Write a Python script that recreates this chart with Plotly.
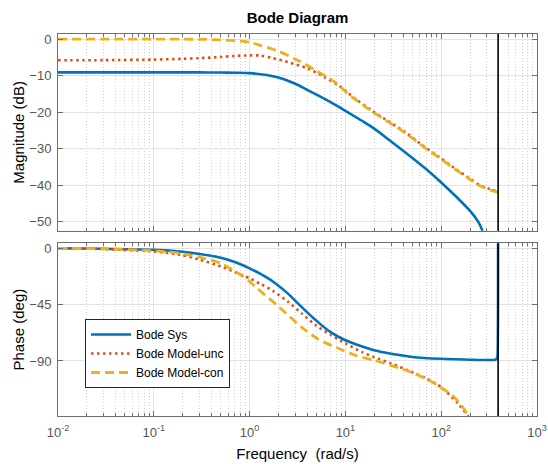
import numpy as np
import plotly.graph_objects as go
from plotly.subplots import make_subplots

# ---------------- data ----------------
NYQ = np.pi / 0.008  # Nyquist frequency (rad/s)

w_sys_mag = [0.01, 0.1, 0.3, 0.5, 0.7, 1, 1.5, 2, 3, 4, 6, 10, 15, 20, 30, 50, 70, 100, 150, 200, 230, 250, 270, 290]
sys_mag = [-9.1, -9.1, -9.1, -9.15, -9.2, -9.3, -9.8, -10.5, -12.2, -13.9, -16.3, -19.6, -22.4, -24.5, -28.0, -32.5, -35.6, -39.2, -43.6, -47.0, -49.0, -50.5, -52.5, -55.0]

w_unc_mag = [0.01, 0.03, 0.1, 0.2, 0.3, 0.5, 0.7, 1, 1.3, 1.75, 2.6, 4, 6, 8.7, 13, 19, 29, 44, 65, 97, 145, 200, 256, 320, NYQ]
unc_mag = [-5.8, -5.75, -5.6, -5.4, -5.2, -4.9, -4.6, -4.45, -4.5, -5.2, -6.4, -8.0, -10.3, -12.9, -16.5, -19.6, -22.7, -25.8, -29.2, -32.4, -35.7, -38.2, -40.0, -41.0, -41.7]

w_con_mag = [0.01, 0.1, 0.3, 0.5, 0.8, 1, 1.3, 2, 3.3, 5, 8, 11, 13, 19, 29, 44, 65, 97, 145, 200, 256, 320, NYQ]
con_mag = [0.0, 0.0, -0.05, -0.2, -0.55, -0.85, -1.7, -3.3, -6.0, -8.7, -12.0, -15.3, -16.7, -19.8, -22.9, -26.0, -29.4, -32.6, -35.9, -38.4, -40.2, -41.2, -41.9]

w_sys_ph = [0.01, 0.03, 0.1, 0.2, 0.3, 0.5, 0.7, 1, 1.3, 1.75, 2.5, 3.5, 5, 7, 10, 15, 20, 30, 50, 100, 200, 300, 370, 385, 390, 392, NYQ]
sys_ph = [0.0, -0.3, -1.2, -2.8, -4.5, -7.5, -11.0, -16.0, -20.5, -26.5, -36.0, -47.0, -58.0, -67.0, -73.5, -78.5, -81.5, -84.3, -86.8, -88.3, -89.0, -89.3, -89.0, -87.0, -75.0, -40.0, 90.0]

w_unc_ph = [0.01, 0.03, 0.1, 0.2, 0.3, 0.5, 0.7, 1, 1.3, 1.75, 2.5, 3.5, 5, 7, 10, 15, 20, 30, 50, 70, 100, 150, 190, 220]
unc_ph = [0.0, -0.6, -2.5, -5.5, -9.0, -14.5, -19.0, -24.0, -28.5, -34.0, -42.5, -52.0, -62.0, -69.0, -76.0, -83.0, -87.0, -92.0, -99.0, -104.0, -111.0, -124.0, -134.0, -142.0]

w_con_ph = [0.01, 0.03, 0.1, 0.2, 0.3, 0.5, 0.8, 1, 1.2, 1.75, 2.4, 3.6, 5.2, 8, 13, 20, 32, 51, 82, 133, 171, 195, 220]
con_ph = [0.0, -0.4, -2.0, -4.3, -7.0, -12.0, -21.0, -26.5, -32.0, -42.6, -51.9, -63.9, -72.7, -79.3, -85.7, -89.5, -94.3, -99.6, -107.3, -118.0, -127.8, -134.5, -141.0]

series_names = ["Bode Sys", "Bode Model-unc", "Bode Model-con"]
x_tick_vals = [1e-2, 1e-1, 1e0, 1e1, 1e2, 1e3]
x_tick_text = ["10<sup>-2</sup>", "10<sup>-1</sup>", "10<sup>0</sup>", "10<sup>1</sup>", "10<sup>2</sup>", "10<sup>3</sup>"]
mag_ticks = [0, -10, -20, -30, -40, -50]
ph_ticks = [0, -45, -90]
MAG_RANGE = [-52.4, 1.4]
PH_RANGE = [-134, 4]

# ---------------- styling ----------------
C_SYS = "#0072BD"
C_UNC = "#D95319"
C_CON = "#EDB120"
FONT = "Liberation Sans, Arial, Helvetica, sans-serif"
TICK_COLOR = "#555555"
AX_COLOR = "#6e6e6e"
GRID = "#e3e3e3"
MINOR_GRID = "#cfcfcf"

minor_vals = [k * 10.0 ** e for e in range(-2, 3) for k in range(2, 10)]

fig = make_subplots(rows=2, cols=1, shared_xaxes=False, vertical_spacing=0.0)

styles = [
    (C_SYS, None, 2.6),
    (C_UNC, "2.5px,3.5px", 2.6),
    (C_CON, "9px,5px", 2.8),
]
mags = [(w_sys_mag, sys_mag), (w_unc_mag, unc_mag), (w_con_mag, con_mag)]
phs = [(w_sys_ph, sys_ph), (w_unc_ph, unc_ph), (w_con_ph, con_ph)]

for (w, m), name, (c, d, lw) in zip(mags, series_names, styles):
    fig.add_trace(go.Scatter(x=w, y=m, mode="lines", name=name, showlegend=False,
                             line=dict(color=c, dash=d, width=lw, shape="spline", smoothing=0.8)),
                  row=1, col=1)
for (w, p), name, (c, d, lw) in zip(phs, series_names, styles):
    fig.add_trace(go.Scatter(x=w, y=p, mode="lines", name=name, showlegend=True,
                             line=dict(color=c, dash=d, width=lw, shape="spline", smoothing=0.6)),
                  row=2, col=1)

# Nyquist frequency marker lines
for xref, yref in [("x", "y domain"), ("x2", "y2 domain")]:
    fig.add_shape(type="line", xref=xref, yref=yref, x0=NYQ, x1=NYQ, y0=0, y1=1,
                  line=dict(color="black", width=1.6), layer="above")

L, R, T, B = 58, 11, 34, 48
H = 464 - T - B
top_dom = [(416 - 230.7) / H, 1.0]
bot_dom = [0.0, (416 - 243.3) / H]

common_x = dict(type="log", range=[-2, 3], tickvals=x_tick_vals, ticktext=x_tick_text,
                ticks="inside", ticklen=5, tickcolor=AX_COLOR, mirror="allticks",
                showline=True, linecolor=AX_COLOR, linewidth=1, automargin=False,
                showgrid=True, gridcolor=GRID, gridwidth=1, zeroline=False,
                tickfont=dict(family=FONT, size=13, color=TICK_COLOR),
                minor=dict(tickvals=minor_vals, ticks="inside", ticklen=3, tickcolor=AX_COLOR,
                           showgrid=True, gridcolor=MINOR_GRID, griddash="1px,2px", gridwidth=1))
common_y = dict(ticks="inside", ticklen=5, tickcolor=AX_COLOR, mirror="allticks",
                showline=True, linecolor=AX_COLOR, linewidth=1, automargin=False,
                showgrid=True, gridcolor=GRID, gridwidth=1, zeroline=False,
                ticklabelstandoff=3,
                tickfont=dict(family=FONT, size=13, color=TICK_COLOR))

fig.update_layout(
    xaxis=dict(common_x, showticklabels=False, anchor="y"),
    xaxis2=dict(common_x, anchor="y2", ticklabelstandoff=4,
                title=dict(text="Frequency\u00a0 (rad/s)", font=dict(family=FONT, size=15, color="black"), standoff=9)),
    yaxis=dict(common_y, domain=top_dom, range=MAG_RANGE, tickvals=mag_ticks,
               title=dict(text="Magnitude (dB)", font=dict(family=FONT, size=15, color="black"), standoff=1)),
    yaxis2=dict(common_y, domain=bot_dom, range=PH_RANGE, tickvals=ph_ticks,
                title=dict(text="Phase (deg)", font=dict(family=FONT, size=15, color="black"), standoff=1)),
    title=dict(text="<b>Bode Diagram</b>", x=(L + (548 - R)) / 2 / 548, xanchor="center",
               y=1 - 18 / 464, yanchor="middle", font=dict(family=FONT, size=15, color="black")),
    width=548, height=464,
    margin=dict(l=L, r=R, t=T, b=B),
    paper_bgcolor="white", plot_bgcolor="white",
    legend=dict(x=(85 - L) / (548 - L - R), y=(416 - 319) / H, xanchor="left", yanchor="top",
                bgcolor="white", bordercolor="#262626", borderwidth=1,
                font=dict(family=FONT, size=12, color="black"),
                itemwidth=40, tracegroupgap=0),
)

fig.write_html("out.html", config={"displayModeBar": False},
               post_script="document.body.style.margin='0px';")
